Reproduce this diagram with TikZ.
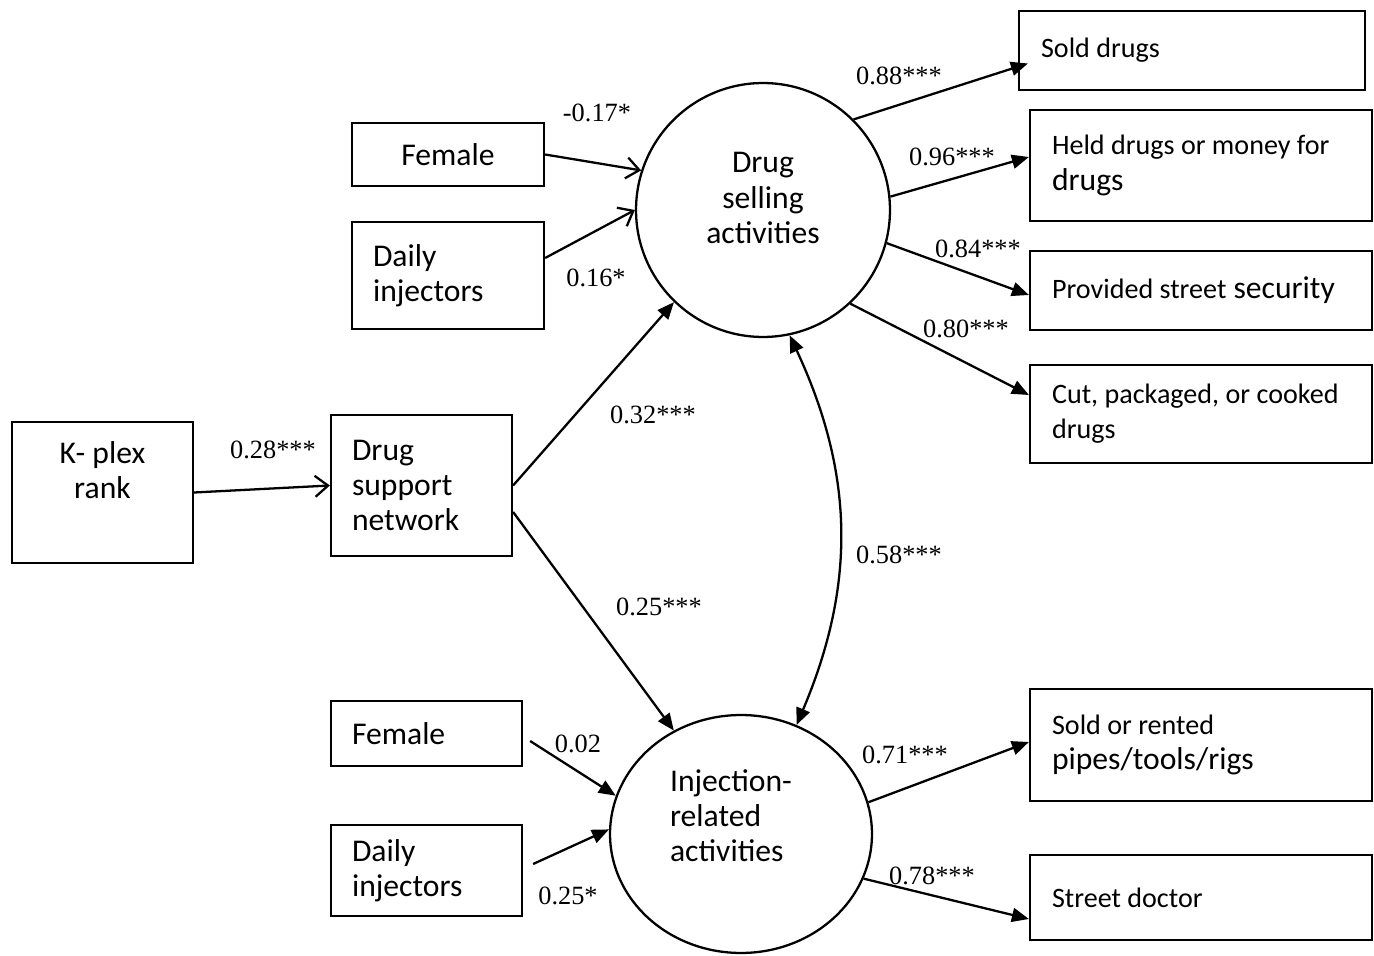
\documentclass[tikz,border=0pt]{standalone}
\usepackage{fontspec}
\setmainfont{Carlito}
\newfontfamily\coeffont{Liberation Serif}
\usetikzlibrary{arrows.meta,shapes.geometric}

\newcommand{\smtxt}[1]{{\fontsize{16}{20}\selectfont #1}}

\tikzset{
  box/.style={draw, line width=1.3pt, inner ysep=0pt, font=\fontsize{18}{20}\selectfont},
  lbox/.style={box, align=flush left, inner xsep=0.42cm},
  latent/.style={draw, line width=1.3pt, inner sep=0pt},
  inner text/.style={inner sep=0pt, font=\fontsize{18}{20}\selectfont},
  coef/.style={font=\coeffont\fontsize{15}{17}\selectfont, inner sep=1pt},
  path/.style={line width=1.3pt, -{Triangle[length=0.34cm,width=0.28cm]}},
  openpath/.style={line width=1.3pt, -{Straight Barb[length=0.26cm,width=0.42cm]}},
}

\begin{document}
\begin{tikzpicture}[x=0.02cm, y=-0.02cm]
	\useasboundingbox (0,0) rectangle (1374,956);

	% Nodes
	% Latent factors
	\node[latent, circle, minimum size=5.08cm] (sell) at (763,210) {};
	\node[inner text, align=center] (sell-txt) at ([yshift=0.24cm]sell.center) {Drug\\selling\\activities};
	\node[latent, ellipse, minimum width=5.24cm, minimum height=4.76cm] (inj) at (741,834) {};
	\node[inner text, align=flush left] (inj-txt) at ([xshift=-0.2cm,yshift=0.36cm]inj.center) {Injection-\\related\\activities};

	% Predictors of drug selling
	\node[box, minimum width=3.84cm, minimum height=1.26cm] (fem-s) at (448,154.5) {Female};
	\node[lbox, text width=3.0cm, minimum height=2.14cm] (day-s) at (448,275.5) {Daily\\injectors};

	% Network
	\node[box, minimum width=3.62cm, minimum height=2.82cm] (kplex) at (102.5,492.5) {};
	\node[inner text, align=center] (kplex-txt) at ([yshift=0.44cm]kplex.center) {K- plex\\rank};
	\node[lbox, text width=2.78cm, minimum height=2.82cm] (dsn) at (421.5,485.5) {Drug\\support\\network};

	% Predictors of injection-related activities
	\node[lbox, text width=2.98cm, minimum height=1.3cm] (fem-i) at (426.5,733.5) {Female};
	\node[lbox, text width=2.98cm, minimum height=1.82cm] (day-i) at (426.5,870.5) {Daily\\injectors};

	% Indicators of drug selling
	\node[lbox, inner xsep=0.44cm, text width=6.04cm, minimum height=1.58cm] (sold) at (1192,50.5) {\smtxt{Sold drugs}};
	\node[lbox, inner xsep=0.44cm, text width=5.96cm, minimum height=2.22cm] (held) at (1201,165.5) {\smtxt{Held drugs or money for}\\drugs};
	\node[lbox, inner xsep=0.44cm, text width=5.96cm, minimum height=1.58cm] (prov) at (1201,290.5) {\smtxt{Provided street} security};
	\node[lbox, inner xsep=0.44cm, text width=5.96cm, minimum height=1.96cm] (cut) at (1201,414) {\smtxt{Cut, packaged, or cooked}\\\smtxt{drugs}};

	% Indicators of injection-related activities
	\node[lbox, inner xsep=0.44cm, text width=5.96cm, minimum height=2.24cm] (rent) at (1201,745) {\smtxt{Sold or rented}\\pipes/tools/rigs};
	\node[lbox, inner xsep=0.44cm, text width=5.96cm, minimum height=1.7cm] (doc) at (1201,897.5) {\smtxt{Street doctor}};

	% Edges
	% Covariates to drug selling
	\draw[openpath] (fem-s.east) -- (sell.162);
	\draw[openpath] ([yshift=0.35cm]day-s.east) -- (sell.180);
	% K-plex to network
	\draw[openpath] (kplex.east) -- (dsn.west);
	% Network to latent factors
	\draw[path] (dsn.east) -- (sell.226);
	\draw[path] ([yshift=-0.53cm]dsn.east) -- (inj.123.4);
	% Correlation of latent factors
	\draw[line width=1.3pt, {Triangle[length=0.34cm,width=0.28cm]}-{Triangle[length=0.34cm,width=0.28cm]}] (sell.282) to[bend left=24] (inj.63.8);
	% Covariates to injection-related activities
	\draw[path] ([xshift=0.14cm,yshift=-0.15cm]fem-i.east) -- (inj.163);
	\draw[path] ([xshift=0.2cm,yshift=0.13cm]day-i.east) -- (inj.178);
	% Loadings
	\draw[path] (sell.45) -- ([xshift=0.2cm,yshift=-0.26cm]sold.west);
	\draw[path] (sell.6) -- ([yshift=0.17cm]held.west);
	\draw[path] (sell.-15) -- ([yshift=-0.09cm]prov.west);
	\draw[path] (sell.-47) -- ([yshift=0.38cm]cut.west);
	\draw[path] (inj.14) -- ([yshift=0.06cm]rent.west);
	\draw[path] (inj.-20) -- ([yshift=-0.43cm]doc.west);

	% Coefficients
	\node[coef] (c-fem-s) at (597,113) {-0.17*};
	\node[coef] (c-day-s) at (596,278) {0.16*};
	\node[coef] (c-kplex) at (273,450) {0.28***};
	\node[coef] (c-dsn-s) at (653,415) {0.32***};
	\node[coef] (c-dsn-i) at (659,607) {0.25***};
	\node[coef] (c-cor) at (899,555) {0.58***};
	\node[coef] (c-fem-i) at (578,744) {0.02};
	\node[coef] (c-day-i) at (568,896) {0.25*};
	\node[coef] (c-sold) at (899,76) {0.88***};
	\node[coef] (c-held) at (952,157) {0.96***};
	\node[coef] (c-prov) at (978,249) {0.84***};
	\node[coef] (c-cut) at (966,329) {0.80***};
	\node[coef] (c-rent) at (905,755) {0.71***};
	\node[coef] (c-doc) at (932,876) {0.78***};
\end{tikzpicture}
\end{document}
